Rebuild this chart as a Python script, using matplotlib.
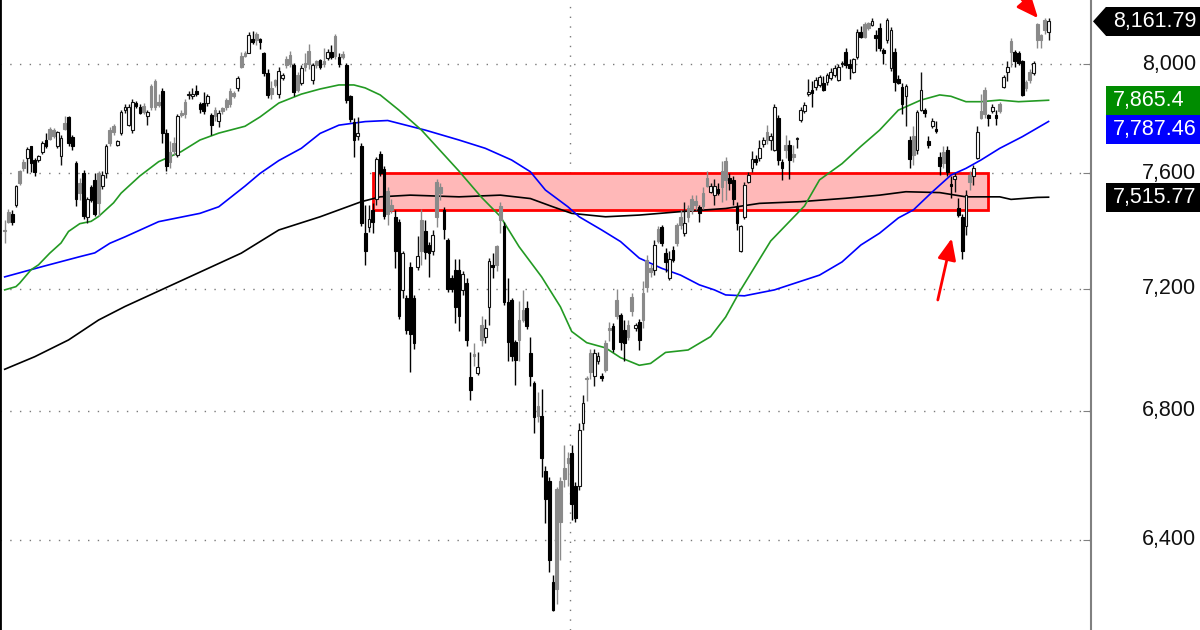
import numpy as np
import matplotlib.pyplot as plt
from matplotlib.patches import Rectangle, Polygon
from matplotlib.ticker import FixedLocator, NullLocator, NullFormatter
import matplotlib.transforms as mtransforms

plt.rcParams['font.family'] = ['Liberation Sans', 'DejaVu Sans']

# daily bars, oldest first
opens = [7402, 7465, 7457, 7489, 7608, 7641, 7655, 7698, 7648, 7648,
         7676, 7720, 7761, 7756, 7697, 7663, 7783, 7802, 7730, 7637,
         7567, 7603, 7445, 7550, 7578, 7600, 7555, 7603, 7756, 7770,
         7702, 7745, 7830, 7773, 7756, 7856, 7840, 7844, 7806, 7918,
         7935, 7860, 7900, 7745, 7675, 7710, 7665, 7820, 7860, 7884,
         7880, 7900, 7850, 7855, 7855, 7810, 7830, 7788, 7835, 7866,
         7900, 7892, 7910, 8030, 8043, 8043, 8095, 8115, 8095, 8040,
         7966, 7910, 7940, 7890, 7947, 8018, 8035, 7996, 7958, 7930,
         8005, 8050, 7940, 8010, 8015, 8010, 8022, 8047, 8105, 8027,
         8036, 7996, 7880, 7785, 7735, 7700, 7390, 7410, 7470, 7510,
         7670, 7615, 7537, 7490, 7445, 7428, 7195, 7168, 7275, 7168,
         7275, 7436, 7398, 7350, 7330, 7570, 7550, 7470, 7365, 7235,
         7264, 7264, 7196, 7220, 6908, 6983, 6920, 7080, 7040, 7140,
         7280, 7345, 7485, 7415, 7155, 7162, 7022, 7095, 7129, 7135,
         6985, 6890, 6815, 6783, 6610, 6580, 6275, 6555, 6580, 6620,
         6650, 6667, 6565, 6565, 6760, 6905, 6985, 6910, 6960, 6912,
         7020, 7070, 7075, 7162, 7112, 7062, 7078, 7172, 7070, 7090,
         7185, 7298, 7270, 7264, 7405, 7410, 7320, 7236, 7332, 7420,
         7445, 7392, 7478, 7508, 7502, 7480, 7532, 7585, 7535, 7525,
         7543, 7610, 7645, 7585, 7577, 7485, 7330, 7445, 7570, 7618,
         7652, 7655, 7705, 7750, 7720, 7684, 7800, 7640, 7702, 7702,
         7670, 7722, 7793, 7825, 7887, 7903, 7915, 7920, 7930, 7933,
         7946, 7958, 7940, 8000, 8046, 8000, 7970, 8027, 8122, 8150,
         8155, 8148, 8110, 8135, 8053, 8090, 7985, 8046, 7945, 7915,
         7880, 7720, 7735, 7685, 7830, 7830, 7715, 7770, 7760, 7660,
         7678, 7684, 7562, 7580, 7478, 7445, 7415, 7596, 7590, 7655,
         7825, 7903, 7810, 7825, 7810, 7850, 7915, 7970, 8088, 8046,
         8040, 8010, 7933, 7972, 7965, 8150, 8108, 8168, 8120]
highs = [7436, 7475, 7470, 7558, 7612, 7650, 7695, 7700, 7655, 7666,
         7716, 7747, 7768, 7763, 7753, 7738, 7809, 7809, 7737, 7646,
         7585, 7613, 7515, 7560, 7600, 7610, 7610, 7706, 7766, 7780,
         7720, 7830, 7850, 7850, 7870, 7862, 7850, 7855, 7830, 7925,
         7945, 7890, 7912, 7760, 7715, 7730, 7815, 7830, 7870, 7900,
         7910, 7920, 7860, 7895, 7890, 7820, 7840, 7830, 7840, 7875,
         7910, 7900, 7955, 8045, 8048, 8120, 8125, 8120, 8100, 8047,
         7980, 7935, 7945, 7990, 7966, 8030, 8050, 8005, 7970, 7995,
         8040, 8075, 8005, 8015, 8020, 8060, 8055, 8070, 8115, 8040,
         8050, 8005, 7885, 7800, 7805, 7710, 7490, 7490, 7495, 7660,
         7680, 7625, 7550, 7510, 7470, 7440, 7330, 7180, 7290, 7180,
         7380, 7475, 7435, 7360, 7400, 7580, 7565, 7480, 7375, 7245,
         7300, 7300, 7260, 7235, 6990, 7020, 6990, 7110, 7100, 7305,
         7320, 7350, 7500, 7430, 7235, 7170, 7030, 7160, 7195, 7160,
         7040, 6895, 6860, 6870, 6625, 6590, 6295, 6560, 6590, 6690,
         6670, 6690, 6575, 6760, 6850, 6910, 7000, 7000, 6990, 6920,
         7030, 7090, 7085, 7200, 7120, 7095, 7095, 7185, 7085, 7100,
         7225, 7315, 7285, 7365, 7415, 7420, 7340, 7330, 7345, 7425,
         7470, 7500, 7490, 7525, 7525, 7490, 7550, 7610, 7565, 7580,
         7565, 7645, 7660, 7600, 7590, 7500, 7420, 7570, 7605, 7680,
         7665, 7720, 7730, 7775, 7745, 7850, 7810, 7650, 7740, 7720,
         7702, 7730, 7840, 7860, 7945, 7935, 7950, 7960, 7955, 7965,
         7985, 7995, 8000, 8010, 8060, 8020, 8022, 8133, 8145, 8160,
         8158, 8175, 8130, 8155, 8060, 8175, 8140, 8060, 7960, 7930,
         7925, 7735, 7770, 7830, 7970, 7835, 7735, 7800, 7790, 7675,
         7700, 7700, 7590, 7600, 7512, 7455, 7540, 7610, 7630, 7770,
         7890, 7915, 7815, 7850, 7830, 7860, 7960, 8010, 8100, 8053,
         8050, 8015, 7940, 7980, 8010, 8155, 8115, 8175, 8175]
lows = [7356, 7425, 7420, 7482, 7560, 7608, 7600, 7605, 7590, 7641,
        7670, 7690, 7720, 7727, 7690, 7629, 7756, 7700, 7684, 7485,
        7505, 7440, 7427, 7500, 7450, 7450, 7545, 7585, 7700, 7740,
        7697, 7740, 7820, 7770, 7745, 7837, 7815, 7815, 7776, 7830,
        7830, 7840, 7710, 7610, 7620, 7665, 7660, 7805, 7800, 7870,
        7870, 7880, 7820, 7815, 7845, 7740, 7790, 7768, 7815, 7830,
        7840, 7875, 7900, 7985, 8025, 8040, 8075, 8072, 8055, 7955,
        7873, 7870, 7915, 7875, 7940, 7985, 7990, 7880, 7895, 7920,
        7975, 7980, 7925, 7985, 7980, 7990, 8015, 8020, 8020, 7990,
        8020, 7855, 7785, 7660, 7720, 7415, 7280, 7395, 7390, 7490,
        7590, 7440, 7420, 7460, 7270, 7100, 7170, 7050, 6925, 7000,
        7265, 7280, 7300, 7240, 7315, 7410, 7505, 7370, 7190, 7190,
        7085, 7060, 7180, 7010, 6834, 6945, 6915, 7010, 7020, 7080,
        7235, 7260, 7390, 7145, 6960, 6960, 6883, 6960, 7090, 7065,
        6880, 6730, 6765, 6590, 6450, 6305, 6190, 6210, 6340, 6560,
        6565, 6460, 6455, 6550, 6737, 6830, 6900, 6880, 6950, 6895,
        6925, 7025, 6990, 7100, 6997, 6960, 7030, 7110, 7060, 6997,
        7070, 7190, 7240, 7245, 7355, 7345, 7255, 7230, 7290, 7345,
        7405, 7380, 7430, 7455, 7470, 7430, 7475, 7550, 7530, 7490,
        7525, 7500, 7505, 7540, 7490, 7400, 7325, 7440, 7565, 7605,
        7630, 7645, 7695, 7705, 7685, 7680, 7630, 7575, 7655, 7580,
        7640, 7690, 7785, 7820, 7880, 7840, 7905, 7915, 7900, 7920,
        7940, 7950, 7935, 7990, 7985, 7945, 7965, 8020, 8097, 8097,
        8130, 8145, 8050, 8050, 8000, 8080, 7975, 7900, 7925, 7815,
        7770, 7620, 7630, 7670, 7825, 7805, 7690, 7765, 7745, 7595,
        7620, 7590, 7512, 7535, 7445, 7300, 7385, 7540, 7560, 7650,
        7795, 7800, 7770, 7820, 7775, 7820, 7910, 7935, 7990, 7990,
        7995, 7880, 7900, 7930, 7960, 8060, 8060, 8115, 8090]
closes = [7398, 7430, 7428, 7555, 7567, 7620, 7688, 7637, 7605, 7662,
          7709, 7697, 7724, 7735, 7749, 7729, 7760, 7710, 7697, 7510,
          7530, 7449, 7508, 7505, 7455, 7495, 7596, 7699, 7710, 7750,
          7716, 7823, 7840, 7840, 7860, 7845, 7820, 7823, 7823, 7840,
          7840, 7848, 7745, 7625, 7640, 7680, 7807, 7810, 7815, 7886,
          7890, 7888, 7833, 7825, 7880, 7775, 7806, 7818, 7825, 7840,
          7850, 7882, 7947, 7990, 8030, 8110, 8085, 8090, 8082, 7968,
          7885, 7888, 7921, 7975, 7958, 7996, 8000, 7897, 7905, 7985,
          7990, 8000, 7996, 7997, 7990, 8000, 8047, 8025, 8030, 8002,
          8028, 7866, 7795, 7720, 7745, 7425, 7330, 7440, 7430, 7650,
          7600, 7450, 7455, 7471, 7330, 7108, 7320, 7062, 7050, 7020,
          7310, 7330, 7325, 7320, 7383, 7445, 7532, 7405, 7200, 7198,
          7140, 7110, 7250, 7029, 6866, 6975, 6940, 7030, 7070, 7295,
          7272, 7280, 7436, 7155, 7022, 6975, 6964, 7029, 7095, 7075,
          6910, 6780, 6783, 6650, 6525, 6340, 6193, 6255, 6455, 6585,
          6634, 6510, 6465, 6737, 6823, 6900, 6925, 6985, 6975, 6905,
          6930, 7062, 7000, 7108, 7022, 7018, 7040, 7125, 7080, 7029,
          7095, 7205, 7258, 7350, 7362, 7355, 7290, 7300, 7298, 7355,
          7420, 7425, 7445, 7470, 7490, 7460, 7485, 7555, 7555, 7555,
          7530, 7550, 7575, 7567, 7508, 7425, 7415, 7560, 7595, 7650,
          7642, 7692, 7720, 7720, 7735, 7840, 7648, 7620, 7684, 7648,
          7660, 7725, 7829, 7847, 7897, 7893, 7940, 7953, 7905, 7958,
          7970, 7985, 7990, 8005, 7996, 7985, 8018, 8122, 8103, 8103,
          8135, 8165, 8097, 8060, 8040, 8167, 8128, 7933, 7930, 7853,
          7917, 7650, 7665, 7823, 7903, 7817, 7703, 7788, 7752, 7625,
          7637, 7605, 7555, 7590, 7452, 7330, 7525, 7570, 7620, 7750,
          7800, 7815, 7800, 7840, 7800, 7825, 7953, 7990, 8046, 8010,
          8005, 7884, 7910, 7940, 8003, 8090, 8090, 8130, 8161.79]

# moving averages, read at sample bars
ma_fast_idx = [0, 3, 4, 7, 9, 12, 15, 17, 20, 23, 25, 29, 31, 36, 41, 47, 52, 57, 64, 68,
               73, 79, 84, 89, 93, 96, 100, 105, 111, 121, 127, 132, 137, 143, 148, 151,
               155, 160, 164, 169, 172, 176, 182, 188, 192, 196, 204, 213, 217, 223, 228,
               233, 238, 244, 249, 252, 256, 260, 265, 270, 278]
ma_fast = [7196, 7207, 7219, 7264, 7281, 7321, 7356, 7396, 7423, 7431, 7448, 7496, 7530,
           7591, 7642, 7678, 7720, 7745, 7770, 7804, 7855, 7888, 7907, 7922, 7922, 7911,
           7885, 7829, 7756, 7608, 7515, 7448, 7343, 7240, 7139, 7057, 7020, 7003, 6971,
           6946, 6952, 6988, 6996, 7040, 7105, 7196, 7363, 7485, 7577, 7635, 7697, 7756,
           7829, 7866, 7885, 7880, 7860, 7860, 7866, 7860, 7865.4]
ma_mid_idx = [0, 10, 20, 24, 28, 32, 41, 52, 57, 64, 68, 73, 79, 84, 89, 96, 102, 112,
              121, 128, 135, 140, 144, 150, 153, 159, 164, 169, 175, 180, 185, 189, 192,
              197, 205, 217, 223, 228, 233, 238, 242, 247, 252, 256, 260, 265, 271, 278]
ma_mid = [7240, 7275, 7309, 7322, 7355, 7377, 7430, 7459, 7482, 7555, 7600, 7646, 7690,
          7744, 7774, 7787, 7791, 7756, 7720, 7690, 7648, 7606, 7541, 7482, 7447, 7401,
          7361, 7304, 7269, 7246, 7213, 7196, 7179, 7176, 7196, 7246, 7291, 7349, 7390,
          7443, 7471, 7534, 7594, 7618, 7648, 7690, 7732, 7787.46]
ma_slow_idx = [0, 8, 17, 25, 32, 63, 73, 84, 95, 100, 108, 121, 132, 140, 146, 151, 160,
               169, 180, 192, 201, 212, 224, 233, 240, 249, 256, 265, 268, 275, 278]
ma_slow = [6933, 6974, 7029, 7095, 7140, 7321, 7401, 7447, 7500, 7517, 7523, 7517, 7523,
           7511, 7482, 7459, 7447, 7453, 7465, 7476, 7494, 7500, 7512, 7523, 7535, 7532,
           7517, 7517, 7508, 7515, 7515.77]

price_ticks = [6400, 6800, 7200, 7600, 8000]
zone_start, zone_end = 98, 262
zone_low, zone_high = 7470, 7600
year_break = 150.5
arrow_low = ((248.5, 7162), (252.2, 7372))
arrow_top = ((270.4, 8255), (275.2, 8174))

W, H = 1200, 630
fig = plt.figure(figsize=(W / 100, H / 100), dpi=100)
ax = fig.add_axes([0, 0, 1091 / W, 1])
ax.set_yscale('log')
ax.set_xlim(-1.25, 289.3)
ax.set_ylim(6135, 8244)

o = np.array(opens, float)
h = np.array(highs, float)
l = np.array(lows, float)
c = np.array(closes, float)
x = np.arange(len(c))

# support zone
ax.add_patch(Rectangle((zone_start, zone_low), zone_end - zone_start,
                       zone_high - zone_low, facecolor='#ffb8b8',
                       edgecolor='#ff0000', lw=2, zorder=1))

ax.plot(ma_slow_idx, ma_slow, color='black', lw=1.2, zorder=2)
ax.plot(ma_mid_idx, ma_mid, color='#0000ff', lw=1.2, zorder=2)
ax.plot(ma_fast_idx, ma_fast, color='#239a23', lw=1.2, zorder=2)

# candles: hollow when up, filled grey/black by change vs previous close
prev = np.r_[c[0], c[:-1]]
up = c > o
fill = np.where(c >= prev, '#8a8a8a', '#000000')
face = np.where(up, 'white', fill)
edge = np.where(up, '#111111', fill)
ax.vlines(x, l, h, colors=edge, lw=1, zorder=3)
bottom = np.minimum(o, c)
height = np.maximum(np.abs(c - o), bottom * 0.0006)
ax.bar(x, height, 0.72, bottom, color=face, edgecolor=edge, lw=0.8, zorder=4)

# grid
dots = (0, (1, 6))
for p in price_ticks:
    ax.axhline(p, color='#7a7a7a', lw=1, ls=dots, zorder=0)
ax.axvline(year_break, color='#7a7a7a', lw=1, ls=dots, zorder=0)

# axes / ticks
ax.yaxis.tick_right()
ax.yaxis.set_major_locator(FixedLocator(price_ticks))
ax.yaxis.set_minor_locator(NullLocator())
ax.yaxis.set_major_formatter(NullFormatter())
ax.yaxis.set_minor_formatter(NullFormatter())
ax.tick_params(axis='y', which='both', direction='in', length=6, color='#808080')
ax.set_xticks([])
for s in ['top', 'bottom']:
    ax.spines[s].set_visible(False)
ax.spines['left'].set_color('black')
ax.spines['left'].set_linewidth(2)
ax.spines['right'].set_color('#808080')
ax.spines['right'].set_linewidth(1.5)

lab_tr = mtransforms.blended_transform_factory(fig.transFigure, ax.transData)
for p in price_ticks:
    ax.text(1196 / W, p, f'{p:,}', transform=lab_tr, ha='right', va='center',
            fontsize=15.5, color='#111111', clip_on=False)

# arrows
for (tail, tip) in [arrow_low, arrow_top]:
    ax.annotate('', xy=tip, xytext=tail, annotation_clip=False,
                arrowprops=dict(arrowstyle='-|>,head_length=0.65,head_width=0.28',
                                color='#ff0000', lw=2, mutation_scale=20,
                                shrinkA=0, shrinkB=0), zorder=6)


# last value boxes on the right
def fmt(v):
    return f'{v:,.2f}'.rstrip('0').rstrip('.')


boxes = [(c[-1], '#000000', True), (ma_fast[-1], '#008c00', False),
         (ma_mid[-1], '#0000ff', False), (ma_slow[-1], '#000000', False)]
hb = 29
placed = []
for v, col, arrow in sorted(boxes, key=lambda b: -b[0]):
    yp = ax.transData.transform((0, v))[1]
    if placed and yp > placed[-1] - hb:
        yp = placed[-1] - hb
    placed.append(yp)
    x0 = 1106
    fig.add_artist(Rectangle((x0 / W, (yp - hb / 2) / H), (W - x0) / W, hb / H,
                             transform=fig.transFigure, facecolor=col,
                             edgecolor='none', zorder=5))
    if arrow:
        fig.add_artist(Polygon([(1093 / W, yp / H), (x0 / W, (yp + hb / 2) / H),
                                (x0 / W, (yp - hb / 2) / H)],
                               transform=fig.transFigure, facecolor=col,
                               edgecolor='none', zorder=5))
    fig.text(1113 / W, yp / H, fmt(v), color='white', fontsize=15.5,
             ha='left', va='center', zorder=6)

fig.savefig('out.png', dpi=100)
